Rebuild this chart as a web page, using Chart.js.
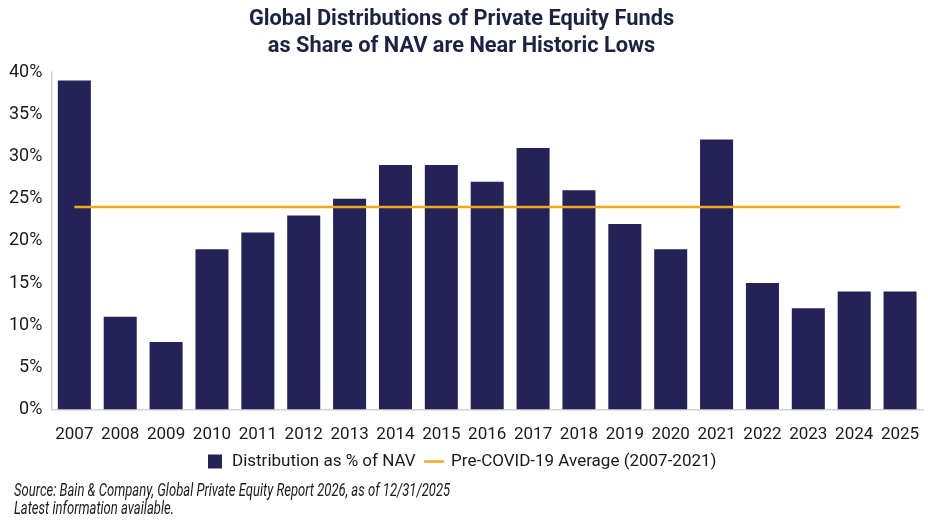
<!DOCTYPE html>
<html>
<head>
<meta charset="utf-8">
<script src="https://cdn.jsdelivr.net/npm/chart.js@4.4.1/dist/chart.umd.min.js"></script>
<style>
  html, body { margin: 0; padding: 0; background: #fff; }
  .wrap { position: relative; width: 928px; height: 528px; }
  .source {
    position: absolute; left: 14px; top: 481px; white-space: nowrap;
    font-family: Roboto, sans-serif;
    font-style: italic; font-size: 18px; line-height: 18px; color: #1a1a1a;
    transform: scaleX(0.725); transform-origin: left top;
  }
</style>
</head>
<body>
<div class="wrap">
  <canvas id="peChart" width="928" height="528"></canvas>
  <div class="source">Source: Bain &amp; Company, Global Private Equity Report 2026, as of 12/31/2025<br>Latest information available.</div>
</div>
<script>
// Values
const years = ['2007', '2008', '2009', '2010', '2011', '2012', '2013', '2014', '2015', '2016',
  '2017', '2018', '2019', '2020', '2021', '2022', '2023', '2024', '2025'];
const distributionPct = [39, 11, 8, 19, 21, 23, 25, 29, 29, 27, 31, 26, 22, 19, 32, 15, 12, 14, 14];
const preCovidAvg = [24, 24, 24, 24, 24, 24, 24, 24, 24, 24, 24, 24, 24, 24, 24, 24, 24, 24, 24];
const yTicks = [0, 5, 10, 15, 20, 25, 30, 35, 40];

const navy = '#232357';
const gold = '#F2A81D';
const textColor = '#1a1a1a';

const config = {
  type: 'bar',
  data: {
    labels: years,
    datasets: [{
      label: 'Distribution as % of NAV',
      data: distributionPct,
      backgroundColor: navy,
      borderWidth: 0,
      categoryPercentage: 1,
      barPercentage: 0.72,
      pointStyle: 'rect',
      order: 1
    }, {
      type: 'line',
      label: 'Pre-COVID-19 Average (2007-2021)',
      data: preCovidAvg,
      borderColor: gold,
      backgroundColor: gold,
      borderWidth: 2.5,
      pointRadius: 0,
      pointStyle: 'line',
      order: 0
    }]
  },
  options: {
    responsive: false,
    animation: false,
    layout: { padding: { left: 0, right: 5, bottom: 48 } },
    plugins: {
      title: {
        display: true,
        text: ['Global Distributions of Private Equity Funds', 'as Share of NAV are Near Historic Lows'],
        color: '#1c2340',
        font: { family: 'Roboto', size: 21.8, weight: 'bold', lineHeight: 1.24 },
        padding: { top: 6.5, bottom: 11.5 }
      },
      legend: {
        position: 'bottom',
        labels: {
          usePointStyle: true,
          boxHeight: 14,
          color: textColor,
          font: { family: 'Roboto', size: 17 },
          padding: 10,
          sort: (a, b) => a.datasetIndex - b.datasetIndex
        }
      },
      tooltip: { enabled: false }
    },
    scales: {
      x: {
        grid: { display: false, drawTicks: false },
        border: { display: true, color: '#d4d4d4', width: 1.5 },
        ticks: { color: textColor, font: { family: 'Roboto', size: 17 }, padding: 15, maxRotation: 0, autoSkip: false },
        // pull the legend up under the year labels, and keep the axis running to the right edge
        afterFit: (axis) => {
          axis.height -= 17;
          axis.paddingLeft = 0;
          axis.paddingRight = 0;
        }
      },
      y: {
        min: 0,
        max: 40,
        grid: { display: false, drawTicks: false },
        border: { display: true, color: '#d4d4d4', width: 1.5 },
        afterBuildTicks: (axis) => { axis.ticks = yTicks.map(v => ({ value: v })); },
        ticks: {
          color: textColor,
          font: { family: 'Roboto', size: 18 },
          padding: 9,
          callback: (v) => v + '%'
        }
      }
    }
  }
};

new Chart(document.getElementById('peChart').getContext('2d'), config);
</script>
</body>
</html>
